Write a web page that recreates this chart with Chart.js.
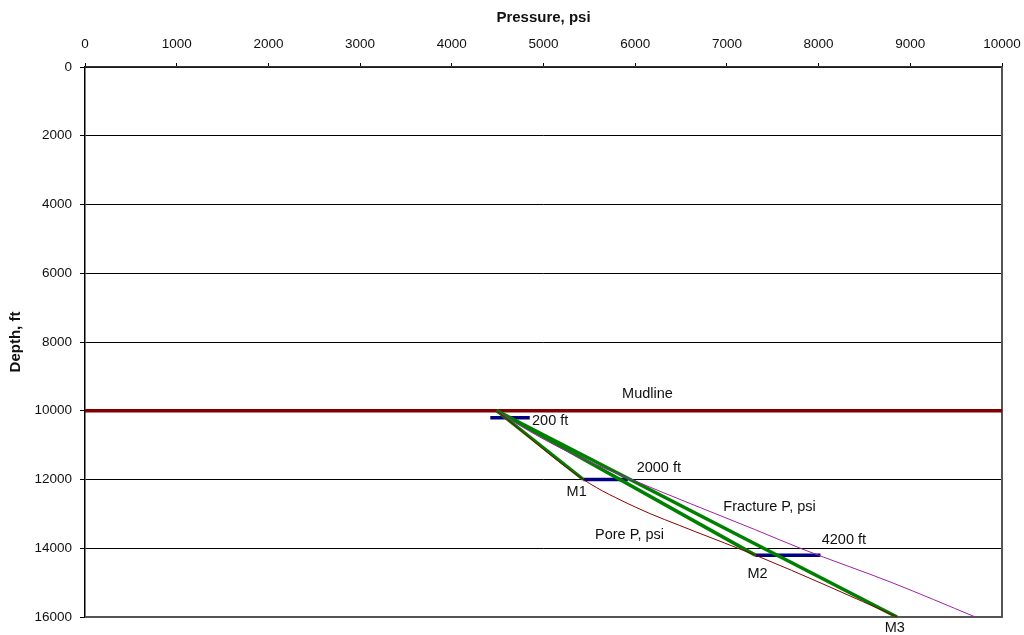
<!DOCTYPE html>
<html>
<head>
<meta charset="utf-8">
<script src="https://cdn.jsdelivr.net/npm/chart.js@4.4.1/dist/chart.umd.min.js"></script>
<style>
  html, body { margin: 0; padding: 0; background: #ffffff; }
  #wrap { width: 1024px; height: 635px; }
</style>
</head>
<body>
<div id="wrap"><canvas id="c" width="1024" height="635"></canvas></div>
<script>
// Axis ticks
const pressureTicks = [0, 1000, 2000, 3000, 4000, 5000, 6000, 7000, 8000, 9000, 10000];
const depthTicks = [0, 2000, 4000, 6000, 8000, 10000, 12000, 14000, 16000];

// Mudline (sea floor depth)
const mudlinePressure = [0, 10000];
const mudlineDepth = [10000, 10000];

// Pore pressure profile, psi vs ft
const porePressure = [4490, 5435, 6000, 6640, 7310, 8100, 8856];
const poreDepth = [10000, 12000, 12800, 13500, 14200, 15100, 16000];

// Fracture pressure profile, psi vs ft
const fracPressure = [4490, 4850, 5350, 5960, 6600, 7300, 7800, 8800, 9710];
const fracDepth = [10000, 10600, 11300, 12000, 12700, 13450, 14000, 15000, 16000];

// Mud-weight lines from the mudline to the M1, M2, M3 points
const m1LinePressure = [4490, 5435];
const m1LineDepth = [10000, 12000];
const m2LinePressure = [4490, 7310];
const m2LineDepth = [10000, 14200];
const m3LinePressure = [4490, 8856];
const m3LineDepth = [10000, 16000];

// Casing seats below mudline: 200 ft, 2000 ft, 4200 ft
const seat200Pressure = [4420, 4850];
const seat200Depth = [10200, 10200];
const seat2000Pressure = [5435, 5920];
const seat2000Depth = [12000, 12000];
const seat4200Pressure = [7310, 8020];
const seat4200Depth = [14200, 14200];

// Text labels in chart units
const labelTexts = ['Mudline', '200 ft', '2000 ft', 'M1', 'Fracture P, psi', 'Pore P, psi', '4200 ft', 'M2', 'M3'];
const labelPressure = [6134, 4875, 6016, 5362, 6961, 5562, 8034, 7334, 8830];
const labelDepth = [9513, 10298, 11651, 12364, 12791, 13615, 13760, 14749, 16329];
const labelAlign = ['center', 'left', 'left', 'center', 'left', 'left', 'left', 'center', 'center'];

const pts = (xs, ys) => xs.map((x, i) => ({ x: x, y: ys[i] }));

const FONT = "'Liberation Sans', Arial, sans-serif";

const plotBorder = {
  id: 'plotBorder',
  beforeDatasetsDraw(chart) {
    const { ctx, chartArea: a } = chart;
    ctx.save();
    ctx.strokeStyle = '#555555';
    ctx.lineWidth = 2;
    ctx.beginPath();
    ctx.moveTo(a.right, a.top);
    ctx.lineTo(a.right, a.bottom);
    ctx.lineTo(a.left, a.bottom);
    ctx.stroke();
    ctx.restore();
  }
};

const textLabels = {
  id: 'textLabels',
  afterDatasetsDraw(chart) {
    const { ctx, scales } = chart;
    ctx.save();
    ctx.fillStyle = '#111111';
    ctx.font = '14.5px ' + FONT;
    ctx.textBaseline = 'middle';
    labelTexts.forEach((t, i) => {
      ctx.textAlign = labelAlign[i];
      ctx.fillText(t, scales.x.getPixelForValue(labelPressure[i]), scales.y.getPixelForValue(labelDepth[i]));
    });
    ctx.restore();
  }
};

const line = (data, color, width, smooth) => ({
  data: data,
  showLine: true,
  borderColor: color,
  backgroundColor: color,
  borderWidth: width,
  pointRadius: 0,
  pointHoverRadius: 0,
  fill: false,
  cubicInterpolationMode: smooth ? 'monotone' : 'default',
  tension: 0
});

new Chart(document.getElementById('c'), {
  type: 'scatter',
  data: {
    datasets: [
      line(pts(porePressure, poreDepth), '#8b0000', 1, true),
      line(pts(fracPressure, fracDepth), '#a020a8', 1, true),
      line(pts(m1LinePressure, m1LineDepth), '#008000', 3.5),
      line(pts(m2LinePressure, m2LineDepth), '#008000', 3.5),
      line(pts(m3LinePressure, m3LineDepth), '#008000', 3.5),
      line(pts(seat200Pressure, seat200Depth), '#000080', 3.5),
      line(pts(seat2000Pressure, seat2000Depth), '#000080', 3.5),
      line(pts(seat4200Pressure, seat4200Depth), '#000080', 3.5),
      line(pts(mudlinePressure, mudlineDepth), '#800000', 3.5)
    ]
  },
  options: {
    responsive: false,
    devicePixelRatio: 1,
    animation: false,
    layout: { padding: { left: 0, top: 0, right: 22, bottom: 18 } },
    plugins: { legend: { display: false }, tooltip: { enabled: false } },
    scales: {
      x: {
        type: 'linear',
        position: 'top',
        min: 0,
        max: 10000,
        afterBuildTicks: s => { s.ticks = pressureTicks.map(v => ({ value: v })); },
        afterFit: s => { s.height = 67; s.paddingLeft = 0; s.paddingRight = 0; },
        ticks: {
          color: '#111111',
          font: { family: FONT, size: 13.5 },
          padding: 11,
          maxRotation: 0,
          callback: v => String(v)
        },
        grid: { drawOnChartArea: false, drawTicks: true, tickLength: 4, color: '#000000' },
        border: { display: true, color: '#333333', width: 1.5 },
        title: {
          display: true,
          text: 'Pressure, psi',
          color: '#111111',
          font: { family: FONT, size: 15, weight: 'bold' },
          padding: { top: 9, bottom: 0 }
        }
      },
      y: {
        type: 'linear',
        position: 'left',
        reverse: true,
        min: 0,
        max: 16000,
        afterBuildTicks: s => { s.ticks = depthTicks.map(v => ({ value: v })); },
        afterFit: s => { s.width = 85; s.paddingTop = 0; s.paddingBottom = 0; },
        ticks: {
          color: '#111111',
          font: { family: FONT, size: 13.5 },
          padding: 8,
          callback: v => String(v)
        },
        grid: { drawOnChartArea: true, drawTicks: true, tickLength: 5, color: '#000000', lineWidth: 1 },
        border: { display: true, color: '#000000', width: 1.5 },
        title: {
          display: true,
          text: 'Depth, ft',
          color: '#111111',
          font: { family: FONT, size: 15, weight: 'bold' },
          padding: { top: 7, bottom: 0 }
        }
      }
    }
  },
  plugins: [plotBorder, textLabels]
});
</script>
</body>
</html>
